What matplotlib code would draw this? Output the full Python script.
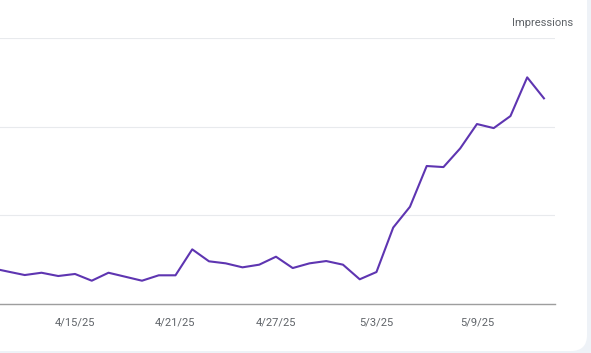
import pandas as pd
import matplotlib.pyplot as plt
from matplotlib.patches import FancyBboxPatch

plt.rcParams['font.family'] = ['Roboto', 'DejaVu Sans']

# =========================
# Data (daily impressions)
# =========================
dates = pd.date_range('2025-04-10', '2025-05-13', freq='D')
impressions = [40.6, 36.6, 32.7, 35.3, 31.6, 33.9, 26.3, 35.3, 30.8, 26.3,
               32.4, 32.4, 61.7, 48.2, 45.9, 41.4, 44.4, 53.4, 40.6, 45.9,
               48.5, 44.4, 27.9, 36.1, 86.3, 109.8, 155.8, 154.6, 175.7, 203.2,
               198.6, 212.2, 255.9, 232.2]
tick_dates = pd.to_datetime(['2025-04-15', '2025-04-21', '2025-04-27', '2025-05-03', '2025-05-09'])
tick_labels = ['4/15/25', '4/21/25', '4/27/25', '5/3/25', '5/9/25']
grid_values = [0, 100, 200, 300]

W, H = 591, 353
fig = plt.figure(figsize=(W / 100, H / 100), dpi=100)
fig.patch.set_facecolor('#eef2f7')

# =========================
# White card with rounded bottom-right corner
# =========================
bg = fig.add_axes([0, 0, 1, 1])
bg.set_xlim(0, W)
bg.set_ylim(H, 0)
bg.axis('off')
bg.add_patch(FancyBboxPatch((-40, -40), 587 + 40, 351 + 40,
                            boxstyle='round,pad=0,rounding_size=16',
                            facecolor='white', edgecolor='none'))

# =========================
# Line chart
# =========================
left_px, right_px = -19.8, 555
ax = fig.add_axes([left_px / W, (H - 304) / H, (right_px - left_px) / W, (304 - 38.3) / H])
ax.set_facecolor('none')
ax.plot(dates, impressions, color='#5e35b1', linewidth=1.5)

pad = pd.Timedelta(days=0.66)
ax.set_xlim(dates[0] - pad, dates[-1] + pad)
ax.set_ylim(0, 300)

ax.set_yticks(grid_values)
ax.yaxis.grid(True, color='#e8eaed', linewidth=0.8)
ax.set_axisbelow(True)
ax.tick_params(axis='y', left=False, labelleft=False)

ax.set_xticks(tick_dates)
ax.set_xticklabels(tick_labels)
ax.tick_params(axis='x', length=0, pad=10, labelsize=8, labelcolor='#5f6368')

for side in ['top', 'right', 'left']:
    ax.spines[side].set_visible(False)
ax.spines['bottom'].set_color('#9e9e9e')
ax.spines['bottom'].set_linewidth(1)

fig.text(573 / W, 1 - 23 / H, 'Impressions', ha='right', va='center',
         fontsize=8, color='#5f6368')

plt.savefig('out.png', dpi=100, facecolor=fig.get_facecolor())
